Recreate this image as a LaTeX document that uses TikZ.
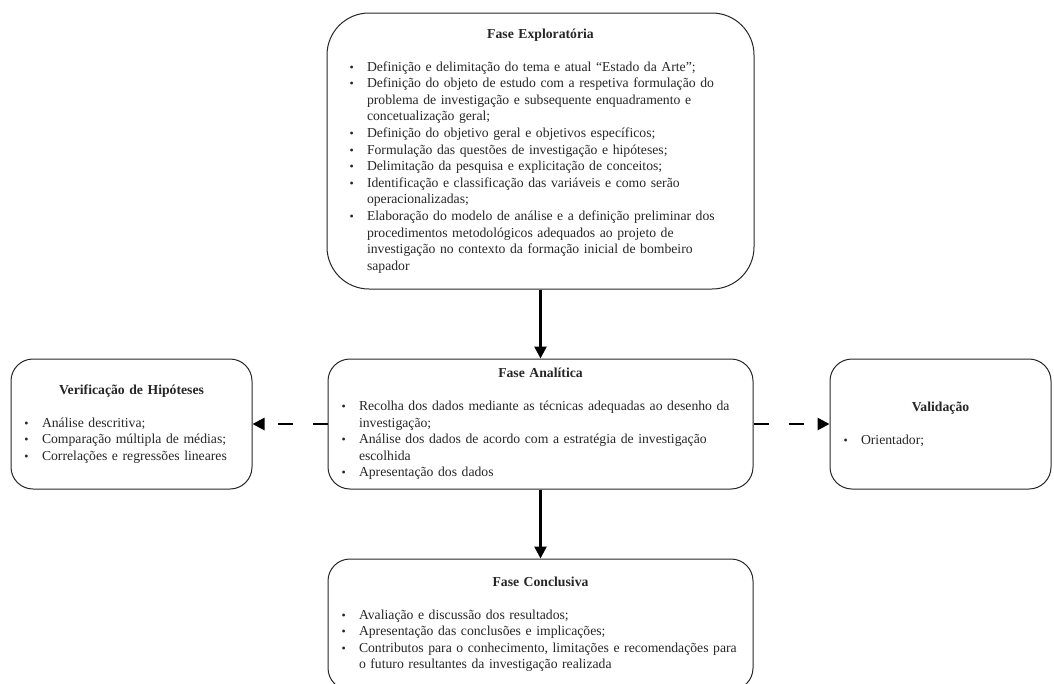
\documentclass[tikz,border=0pt]{standalone}
\usepackage{fontspec}
\setmainfont{Liberation Serif}
\usepackage{tikz}
\usetikzlibrary{shapes, arrows, arrows.meta, positioning}
\tikzstyle{line} = [draw, -{Triangle[length=12pt, width=12pt]}, line width=2.6pt]
\tikzstyle{dline} = [line, dash pattern=on 15pt off 20pt]
\tikzstyle{block} = [draw=black!85, line width=1pt, rectangle, rounded corners=22pt, minimum height=130pt, inner xsep=12pt, align=left, text=black!85, font=\fontsize{13.7pt}{16.6pt}\selectfont]
\newcommand{\ttl}[1]{{\centering\bfseries #1\par}\vspace{16pt}}
\newcommand{\itm}[1]{\par\noindent\hangindent=19pt\hangafter=1\makebox[19pt][l]{\hspace{1.5pt}{\fontsize{12pt}{12pt}\selectfont\textbullet}}#1\par}
\def\nl{\break}

\begin{document}
\begin{tikzpicture}[x=1pt, y=-1pt]
		\path[use as bounding box, clip] (0,0) rectangle (1054,683);
		\node[block, text width=385pt, inner xsep=21pt, minimum height=276pt, rounded corners=42pt] (explor) at (540.5,151) {\ttl{Fase Exploratória}
			\itm{Definição e delimitação do tema e atual “Estado da Arte”;}
			\itm{Definição do objeto de estudo com a respetiva formulação do\nl problema de investigação e subsequente enquadramento e\nl concetualização geral;}
			\itm{Definição do objetivo geral e objetivos específicos;}
			\itm{Formulação das questões de investigação e hipóteses;}
			\itm{Delimitação da pesquisa e explicitação de conceitos;}
			\itm{Identificação e classificação das variáveis e como serão\nl operacionalizadas;}
			\itm{Elaboração do modelo de análise e a definição preliminar dos\nl procedimentos metodológicos adequados ao projeto de\nl investigação no contexto da formação inicial de bombeiro\nl sapador}};
		\node[block, text width=401pt, below=69pt of explor] (anal) {\ttl{Fase Analítica}
			\itm{Recolha dos dados mediante as técnicas adequadas ao desenho da\nl investigação;}
			\itm{Análise dos dados de acordo com a estratégia de investigação\nl escolhida}
			\itm{Apresentação dos dados}};
		\node[block, text width=217pt, left=75pt of anal] (verif) {\ttl{Verificação de Hipóteses}
			\itm{Análise descritiva;}
			\itm{Comparação múltipla de médias;}
			\itm{Correlações e regressões lineares}};
		\node[block, text width=197pt, right=76pt of anal] (valid) {\ttl{Validação}
			\itm{Orientador;}};
		\node[block, text width=401pt, minimum height=131pt, below=69pt of anal] (concl) {\ttl{Fase Conclusiva}
			\itm{Avaliação e discussão dos resultados;}
			\itm{Apresentação das conclusões e implicações;}
			\itm{Contributos para o conhecimento, limitações e recomendações para\nl o futuro resultantes da investigação realizada}};
		\draw[line] (explor) -- (anal);
		\draw[line] (anal) -- (concl);
		\draw[dline] (anal) -- (verif);
		\draw[dline] (anal) -- (valid);
	\end{tikzpicture}
\end{document}
